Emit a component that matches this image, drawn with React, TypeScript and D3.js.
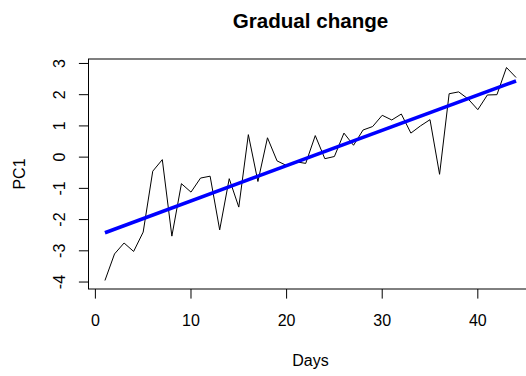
import React from "react";
import * as d3 from "d3";

// PC1 score per day
const days: number[] = Array.from({ length: 44 }, (_, i) => i + 1);
const pc1: number[] = [
  -3.95, -3.1, -2.75, -3.02, -2.4, -0.45, -0.08, -2.53, -0.85, -1.12,
  -0.67, -0.61, -2.33, -0.69, -1.6, 0.72, -0.78, 0.62, -0.12, -0.27,
  -0.15, -0.2, 0.69, -0.05, 0.02, 0.77, 0.38, 0.87, 0.98, 1.34,
  1.19, 1.38, 0.77, 1.0, 1.2, -0.55, 2.03, 2.09, 1.86, 1.52,
  1.99, 2.0, 2.87, 2.55,
];

// fitted linear trend (start and end of the fitted line)
const trendDays: number[] = [1, 44];
const trendValues: number[] = [-2.42, 2.44];

const xTicks: number[] = [0, 10, 20, 30, 40];
const yTicks: number[] = [-4, -3, -2, -1, 0, 1, 2, 3];

const W = 526;
const H = 376;
const plot = { left: 88.5, right: 532.5, top: 59, bottom: 289 };

// extend a data range by 4% on each side
function padded(ext: [number, number]): [number, number] {
  const r = ext[1] - ext[0];
  return [ext[0] - 0.04 * r, ext[1] + 0.04 * r];
}

export default function App() {
  const x = d3
    .scaleLinear()
    .domain(padded(d3.extent(days) as [number, number]))
    .range([plot.left, plot.right]);
  const y = d3
    .scaleLinear()
    .domain(padded(d3.extent(pc1) as [number, number]))
    .range([plot.bottom, plot.top]);

  const pts: [number, number][] = days.map((d, i) => [d, pc1[i]]);
  const line = d3
    .line<[number, number]>()
    .x((d) => x(d[0]))
    .y((d) => y(d[1]));
  const trendPts: [number, number][] = trendDays.map((d, i) => [d, trendValues[i]]);

  const font = "'Liberation Sans', Arial, sans-serif";
  const tickLen = 9.6;
  const cx = (plot.left + plot.right) / 2;
  const cy = (plot.top + plot.bottom) / 2;

  return (
    <svg
      width={W}
      height={H}
      style={{ position: "absolute", left: 0, top: 0, background: "#fff" }}
      fontFamily={font}
    >
      <rect x={0} y={0} width={W} height={H} fill="#fff" />
      <text x={cx} y={27.5} textAnchor="middle" fontSize={20.6} fontWeight="bold" fill="#000">
        Gradual change
      </text>

      {/* series */}
      <path d={line(pts) || ""} fill="none" stroke="#000" strokeWidth={1} />
      <path d={line(trendPts) || ""} fill="none" stroke="#0000ff" strokeWidth={3.6} />

      {/* box */}
      <rect
        x={plot.left}
        y={plot.top}
        width={plot.right - plot.left}
        height={plot.bottom - plot.top}
        fill="none"
        stroke="#000"
        strokeWidth={1}
      />

      {/* x axis */}
      {xTicks.map((t) => (
        <g key={"x" + t}>
          <line
            x1={x(t)}
            x2={x(t)}
            y1={plot.bottom}
            y2={plot.bottom + tickLen}
            stroke="#000"
          />
          <text x={x(t)} y={326} textAnchor="middle" fontSize={16} fill="#000">
            {t}
          </text>
        </g>
      ))}

      {/* y axis */}
      {yTicks.map((t) => (
        <g key={"y" + t}>
          <line
            x1={plot.left - tickLen}
            x2={plot.left}
            y1={y(t)}
            y2={y(t)}
            stroke="#000"
          />
          <text
            transform={`translate(65,${y(t)}) rotate(-90)`}
            textAnchor="middle"
            fontSize={16}
            fill="#000"
          >
            {t}
          </text>
        </g>
      ))}

      <text x={cx} y={366} textAnchor="middle" fontSize={16} fill="#000">
        Days
      </text>
      <text
        transform={`translate(25,${cy}) rotate(-90)`}
        textAnchor="middle"
        fontSize={16}
        fill="#000"
      >
        PC1
      </text>
    </svg>
  );
}
